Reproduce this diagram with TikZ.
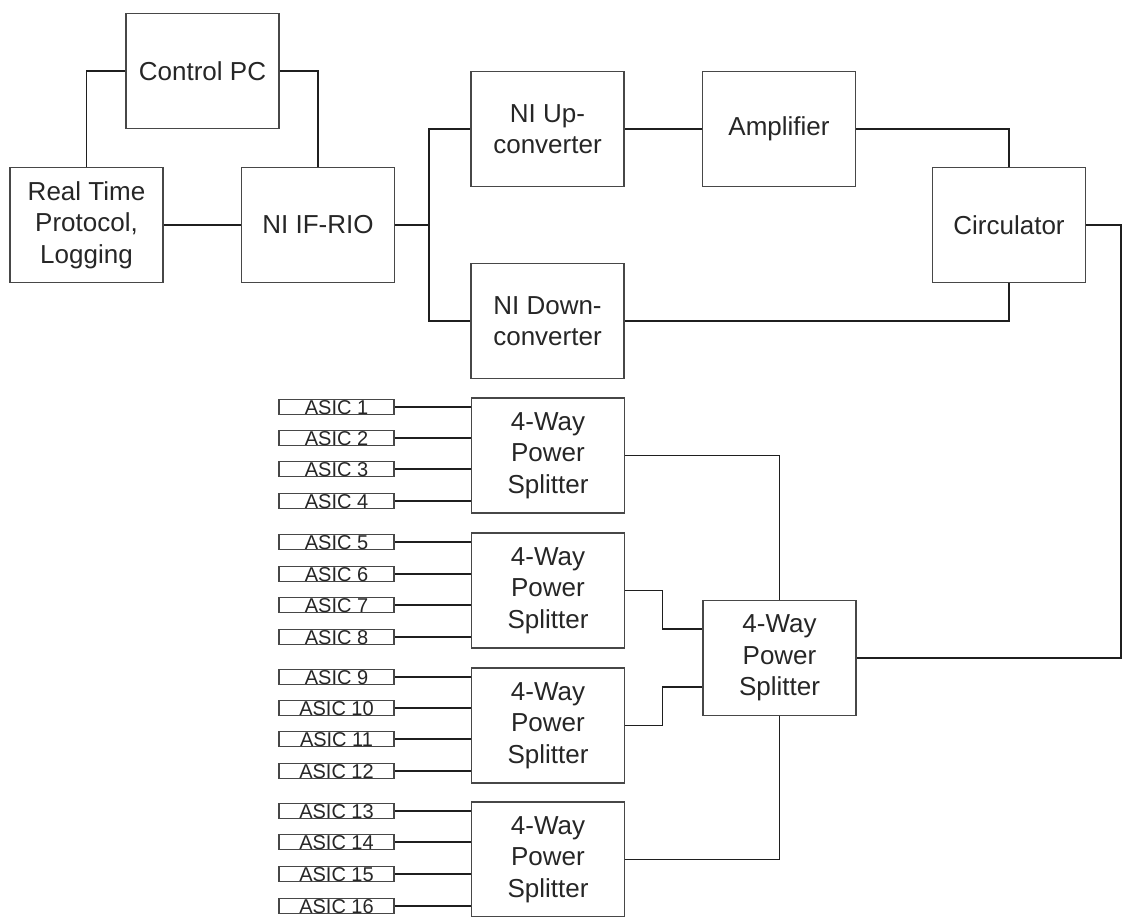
\documentclass[tikz,border=0pt]{standalone}
\usepackage{fontspec}
\setmainfont{Liberation Sans}
\usetikzlibrary{calc}
\begin{document}
\begin{tikzpicture}[x=1pt,y=-1pt,
  blk/.style={draw=black!72, line width=1.8pt, inner sep=0pt, align=center,
    text=black!85, font=\fontsize{26}{31.5}\selectfont,
    minimum width=153pt, minimum height=115pt},
  asic/.style={draw=black!72, line width=1.6pt, inner sep=0pt,
    text=black!85, font=\fontsize{20}{20}\selectfont,
    minimum width=115pt, minimum height=15pt},
  wire/.style={draw=black!88, line width=1.6pt}]
\useasboundingbox (0,0) rectangle (1122,916);

% top blocks
\node[blk] (ctrl) at (202.5,71) {Control PC};
\node[blk] (rt) at (86.5,225) {Real Time\\Protocol,\\Logging};
\node[blk] (rio) at (318,225) {NI IF-RIO};
\node[blk] (up) at (547.5,129) {NI Up-\\converter};
\node[blk] (amp) at (779,129) {Amplifier};
\node[blk] (circ) at (1009,225) {Circulator};
\node[blk] (down) at (547.5,321) {NI Down-\\converter};

% splitters
\node[blk] (s1) at (548,455.5) {4-Way\\Power\\Splitter};
\node[blk] (s2) at (548,590.5) {4-Way\\Power\\Splitter};
\node[blk] (s3) at (548,725.5) {4-Way\\Power\\Splitter};
\node[blk] (s4) at (548,859.5) {4-Way\\Power\\Splitter};
\node[blk] (main) at (779.5,658) {4-Way\\Power\\Splitter};

% ASICs
\newcommand{\asictext}[1]{\smash{\raisebox{-7pt}{#1}}}
\foreach \i/\y in {1/407,2/438,3/469,4/501,5/542,6/574,7/605,8/637,9/677,10/708,11/739,12/771,13/811,14/842,15/874,16/906}{
  \node[asic] (a\i) at (336.5,\y) {\asictext{ASIC \i}};
}

% connections top
\coordinate (jn) at (429,225);
\coordinate (redge) at (1121,225);
\draw[wire] (ctrl.west) -| (rt.north);
\draw[wire] (ctrl.east) -| (rio.north);
\draw[wire] (rt.east) -- (rio.west);
\draw[wire] (rio.east) -- (jn);
\draw[wire] (jn) |- (up.west);
\draw[wire] (jn) |- (down.west);
\draw[wire] (up.east) -- (amp.west);
\draw[wire] (amp.east) -| (circ.north);
\draw[wire] (circ.south) |- (down.east);
\draw[wire] (circ.east) -- (redge) |- (main.east);

% splitter connections
\draw[wire] (s1.east) -| (main.north);
\draw[wire] (s4.east) -| (main.south);
\coordinate (m1) at ($(main.north west)!0.25!(main.south west)$);
\coordinate (m2) at ($(main.north west)!0.75!(main.south west)$);
\draw[wire] (s2.east) -- ++(37,0) |- (m1);
\draw[wire] (s3.east) -- ++(37,0) |- (m2);

% ASIC connections
\foreach \i in {1,2,3,4}{\draw[wire] (a\i.east) -- (a\i.east -| s1.west);}
\foreach \i in {5,6,7,8}{\draw[wire] (a\i.east) -- (a\i.east -| s2.west);}
\foreach \i in {9,10,11,12}{\draw[wire] (a\i.east) -- (a\i.east -| s3.west);}
\foreach \i in {13,14,15,16}{\draw[wire] (a\i.east) -- (a\i.east -| s4.west);}
\end{tikzpicture}
\end{document}
